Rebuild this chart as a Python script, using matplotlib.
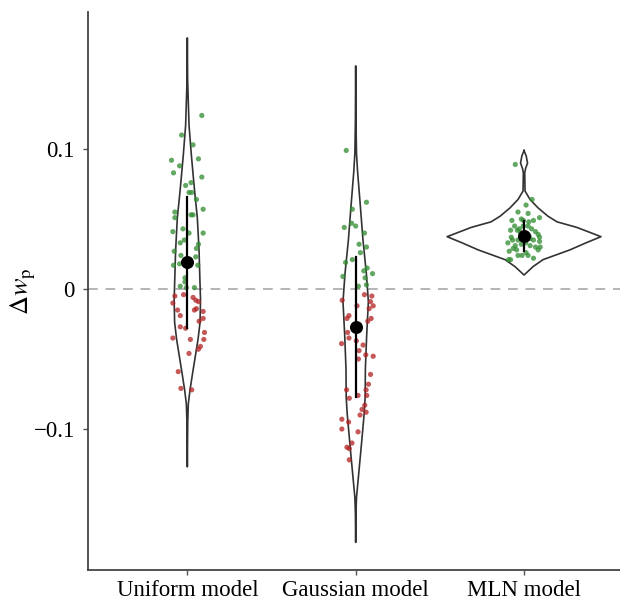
import numpy as np
import matplotlib
matplotlib.use("Agg")
import matplotlib.pyplot as plt

plt.rcParams['font.family'] = ['Liberation Serif', 'DejaVu Serif']
plt.rcParams['mathtext.fontset'] = 'stix'

models = ["Uniform model", "Gaussian model", "MLN model"]

# violin outlines: y values and half widths (x units)
uni_vy = [0.179, 0.150, 0.140, 0.117, 0.096, 0.080, 0.067, 0.051, 0.028, 0.004,
          -0.008, -0.024, -0.036, -0.048, -0.060, -0.072, -0.082, -0.095, -0.127]
uni_hw = [0, 0.3, 0.7, 1.7, 4, 6, 7.7, 10, 11.7, 12.7,
          13.2, 12.7, 10.7, 8, 5.3, 2.7, 1, 0.4, 0]
gau_vy = [0.159, 0.12, 0.097, 0.083, 0.059, 0.035, 0.011, -0.009, -0.033, -0.057,
          -0.077, -0.089, -0.113, -0.136, -0.149, -0.160, -0.181]
gau_hw = [0, 0.3, 0.8, 2, 4.7, 7.3, 10.7, 12.7, 11, 9.7,
          9.5, 8.5, 5.5, 2.5, 0.8, 0.3, 0]
mln_vy = [0.099, 0.095, 0.090, 0.086, 0.083, 0.070, 0.064, 0.058, 0.052, 0.048,
          0.044, 0.0374, 0.033, 0.028, 0.021, 0.016, 0.010]
mln_hw = [0, 2.2, 3.5, 1.5, 0.7, 1, 6, 14, 24, 33,
          53, 77, 62, 46, 19, 9, 0]

# jittered points: (x offset, value)
uni_dx = [0.086, -0.034, 0.034, 0.066, -0.094, -0.046, -0.082, 0.086, 0.022, -0.010,
          0.010, 0.026, 0.054, 0.094, -0.074, 0.022, 0.034, -0.074, -0.086, -0.026,
          0.010, 0.094, -0.018, -0.042, 0.066, 0.054, -0.078, -0.038, 0.050, -0.082,
          -0.046, 0.062, -0.014, -0.014, -0.042, -0.006, 0.042,
          -0.074, -0.022, 0.034, -0.086, 0.050, 0.066, -0.058, 0.042, 0.054, 0.094,
          -0.042, 0.094, 0.070, -0.042, -0.010, 0.102, -0.086, 0.018, 0.098, 0.078,
          0.066, 0.010, -0.054, -0.038, 0.026]
uni_y = [0.124, 0.110, 0.103, 0.093, 0.092, 0.088, 0.083, 0.080, 0.076, 0.074,
         0.069, 0.069, 0.064, 0.057, 0.055, 0.053, 0.053, 0.051, 0.041, 0.043,
         0.040, 0.040, 0.035, 0.033, 0.032, 0.029, 0.027, 0.024, 0.023, 0.017,
         0.018, 0.017, 0.008, 0.005, 0.002, 0.001, 0.001,
         -0.005, -0.004, -0.006, -0.010, -0.008, -0.009, -0.015, -0.015, -0.014, -0.016,
         -0.019, -0.021, -0.023, -0.027, -0.028, -0.031, -0.035, -0.036, -0.036, -0.041,
         -0.043, -0.046, -0.059, -0.071, -0.072]

gau_dx = [-0.056, 0.064, -0.020, -0.068, -0.024, 0.000, 0.052, 0.020, 0.064, 0.028,
          -0.020, -0.060, 0.068, 0.048, 0.100, -0.076, 0.056, 0.064, 0.016,
          -0.080, 0.052, 0.096, 0.088, 0.008, 0.104, 0.080, -0.040, -0.052, 0.092,
          0.072, -0.048, -0.040, -0.084, 0.004, 0.044, 0.020, 0.060, 0.104, 0.016,
          0.088, 0.076, -0.054, -0.038, 0.014, 0.062, 0.066, 0.054, 0.038, 0.062,
          0.026, -0.082, -0.042, -0.082, 0.014, -0.022, -0.052, -0.038, -0.038]
gau_y = [0.099, 0.062, 0.057, 0.044, 0.047, 0.045, 0.040, 0.032, 0.030, 0.026,
         0.021, 0.019, 0.015, 0.013, 0.011, 0.009, 0.008, 0.003, 0.002,
         -0.008, -0.004, -0.005, -0.009, -0.012, -0.012, -0.014, -0.019, -0.021, -0.021,
         -0.023, -0.031, -0.035, -0.039, -0.037, -0.040, -0.044, -0.047, -0.048, -0.050,
         -0.061, -0.068, -0.072, -0.078, -0.076, -0.072, -0.076, -0.083, -0.086, -0.088,
         -0.090, -0.093, -0.095, -0.100, -0.102, -0.110, -0.113, -0.114, -0.122]

mln_dx = [-0.052, 0.048, 0.012, -0.036, 0.024, 0.092, -0.072, -0.016, -0.004, 0.056,
          0.028, -0.056, 0.024, -0.080, -0.040, 0.068, 0.084, 0.092, -0.076, -0.068,
          -0.036, 0.036, 0.056, 0.092, 0.096, -0.096, -0.052, -0.016, 0.036, 0.068,
          -0.088, -0.044, 0.012, 0.084, -0.036, -0.012, 0.024, -0.092, -0.080, 0.056,
          -0.028, -0.064, -0.020, 0.030, 0.010, -0.005, 0.045]
mln_y = [0.089, 0.064, 0.060, 0.055, 0.054, 0.051, 0.049, 0.050, 0.049, 0.049,
         0.048, 0.045, 0.045, 0.042, 0.042, 0.041, 0.039, 0.037, 0.037, 0.035,
         0.035, 0.036, 0.035, 0.034, 0.030, 0.033, 0.031, 0.032, 0.031, 0.030,
         0.027, 0.028, 0.026, 0.028, 0.024, 0.024, 0.024, 0.021, 0.021, 0.022,
         0.043, 0.029, 0.040, 0.038, 0.033, 0.045, 0.043]

mean_vals = [0.019, -0.027, 0.038]
sd_vals = [0.047, 0.050, 0.0105]

violins = [(uni_vy, uni_hw), (gau_vy, gau_hw), (mln_vy, mln_hw)]
points = [(uni_dx, uni_y), (gau_dx, gau_y), (mln_dx, mln_y)]

PX = 168.5  # pixels per category unit, used to turn outline widths into x units

fig = plt.figure(figsize=(6.2, 6.01), dpi=100)
ax = fig.add_axes([88 / 620, 31 / 601, 1 - 88 / 620, 558 / 601])

ax.axhline(0, color='#b4b4b4', lw=1.4, ls=(0, (5, 4)), zorder=1)

for i, ((vy, hw), (dx, py)) in enumerate(zip(violins, points)):
    pos = i + 1
    vy = np.array(vy)
    hw = np.array(hw) / PX
    xs = np.concatenate([pos - hw, (pos + hw)[::-1], [pos - hw[0]]])
    ys = np.concatenate([vy, vy[::-1], [vy[0]]])
    ax.plot(xs, ys, color='#333333', lw=1.2, zorder=2, solid_joinstyle='round')

    dx = np.array(dx)
    py = np.array(py)
    cols = np.where(py > 0, '#2e8b2e', '#b22222')
    ax.scatter(pos + dx, py, s=14, c=cols, alpha=0.75, linewidths=0, zorder=3)

    ax.plot([pos, pos], [mean_vals[i] - sd_vals[i], mean_vals[i] + sd_vals[i]],
            color='black', lw=1.6, zorder=4)
    ax.scatter([pos], [mean_vals[i]], s=70, color='black', zorder=5)

ax.set_xlim(0.41, 3.57)
ax.set_ylim(-0.2007, 0.1979)
ax.set_xticks([1, 2, 3])
ax.set_xticklabels(models)
ax.set_yticks([-0.1, 0, 0.1])
ax.set_yticklabels(['\u22120.1', '0', '0.1'])
ax.set_ylabel(r'$\Delta w_{\mathrm{p}}$', fontsize=19)
ax.yaxis.set_label_coords(-0.094, 0.5)

for s in ['top', 'right']:
    ax.spines[s].set_visible(False)
for s in ['left', 'bottom']:
    ax.spines[s].set_color('#444444')
    ax.spines[s].set_linewidth(1.3)
ax.tick_params(axis='both', length=3.5, width=1.0, color='#555555',
               labelsize=16.5, labelcolor='black')
ax.tick_params(axis='y', pad=6)
ax.tick_params(axis='x', pad=4)

fig.savefig("out.png", dpi=100)
